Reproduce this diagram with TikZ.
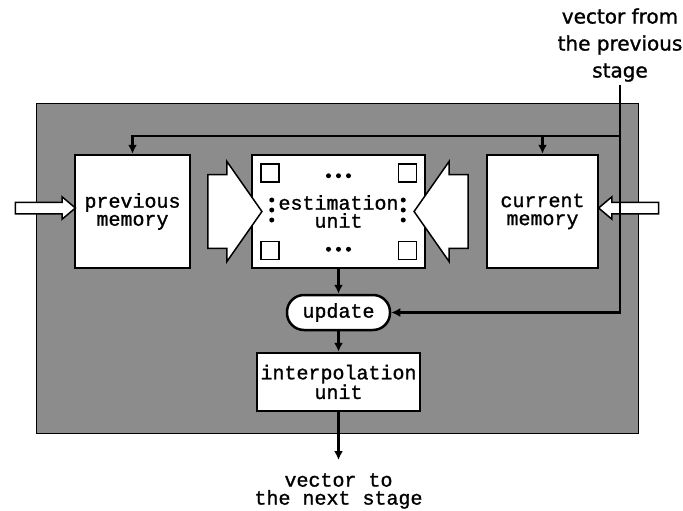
\documentclass[tikz,border=0pt]{standalone}
\usepackage{fontspec}
\setmonofont{Liberation Mono}[AutoFakeBold=1.2]
\setsansfont{DejaVu Sans}[AutoFakeBold=1.2]
\usetikzlibrary{shapes.arrows, arrows.meta}

\colorlet{halftone}{black!45}
\tikzset{
    unitbox/.style={draw, line width=2.5pt, fill=white, inner sep=0pt, align=center,
        font=\ttfamily\bfseries\fontsize{20}{18}\selectfont},
    fatarrow/.style={single arrow, draw, line width=1.5pt, fill=white,
        text height=0pt, text depth=0pt, inner xsep=0pt, inner ysep=36pt,
        minimum height=54pt, minimum width=100pt, single arrow head extend=13pt,
        single arrow tip angle=110},
    inarrow/.style={single arrow, draw, line width=1.5pt, fill=white,
        text height=0pt, text depth=0pt, inner xsep=0pt, inner ysep=5pt,
        minimum height=60pt, minimum width=22pt, single arrow head extend=5.5pt,
        single arrow tip angle=80},
    flow/.style={line width=2.5pt, -{Latex[length=9pt, width=9pt]}},
    dot/.style={fill, circle, inner sep=0pt, minimum size=5pt},
}

\begin{document}
\begin{tikzpicture}[x=1pt, y=-1pt]
    \useasboundingbox (0,0) rectangle (683,511);

    % Hintergrund der Stufe
    \fill[halftone, draw=black, line width=1pt] (36,103) rectangle (638,433);

    % Bloecke
    \node[unitbox, minimum width=115pt, minimum height=113pt] (prev) at (132.5,211.5) {previous\\memory};
    \node[unitbox, minimum width=173pt, minimum height=113pt] (est) at (338.5,211.5) {estimation\\unit};
    \node[unitbox, minimum width=111pt, minimum height=113pt] (curr) at (542.5,211.5) {current\\memory};
    \node[unitbox, minimum width=103pt, minimum height=35pt, rounded corners=17pt] (upd) at (338.5,312.5) {update};
    \node[unitbox, minimum width=163pt, minimum height=58pt] (interp) at (338.5,382) {interpolation\\unit};

    % Inhalt der Schaetzeinheit
    \foreach \a/\dx/\dy in {north west/10/10, north east/-28/10, south west/10/-28, south east/-28/-28}
        \draw[line width=1.5pt] ([shift={(\dx,\dy)}]est.\a) rectangle ++(18,18);
    \foreach \d in {-10,0,10} {
        \node[dot] at ([shift={(\d,22)}]est.north) {};
        \node[dot] at ([shift={(\d,-20)}]est.south) {};
    }
    \foreach \d in {-11.5,-1.5,8.5} {
        \node[dot] at ([shift={(21,\d)}]est.west) {};
        \node[dot] at ([shift={(-23,\d)}]est.east) {};
    }

    % Breite Pfeile
    \node[fatarrow] (fa1) at (222,211.5) {};
    \node[fatarrow, shape border rotate=180] (fa2) at (454,211.5) {};
    \node[inarrow] (inl) at (42,208) {};
    \node[inarrow, shape border rotate=180] (inr) at (632,208) {};

    % Beschriftungen
    \node[align=center, font=\sffamily\bfseries\fontsize{20}{27}\selectfont, inner sep=0pt] (srclabel) at (620,45)
        {vector from\\the previous\\stage};
    \node[align=center, font=\ttfamily\bfseries\fontsize{20}{18}\selectfont, inner sep=0pt] (outlabel) at (338.5,491)
        {vector to\\the next stage};
    \coordinate (tap) at (srclabel.south |- 0,136);
    \coordinate (outend) at (interp.south |- 0,460);

    % Verbindungen
    \draw[flow] ([yshift=-3pt]srclabel.south) |- (upd.east);
    \draw[flow] (tap) -| (prev.north);
    \draw[flow] (curr.north |- tap) -- (curr.north);
    \draw[flow] (est) -- (upd);
    \draw[flow] (upd) -- (interp);
    \draw[flow] (interp) -- (outend);
\end{tikzpicture}
\end{document}
